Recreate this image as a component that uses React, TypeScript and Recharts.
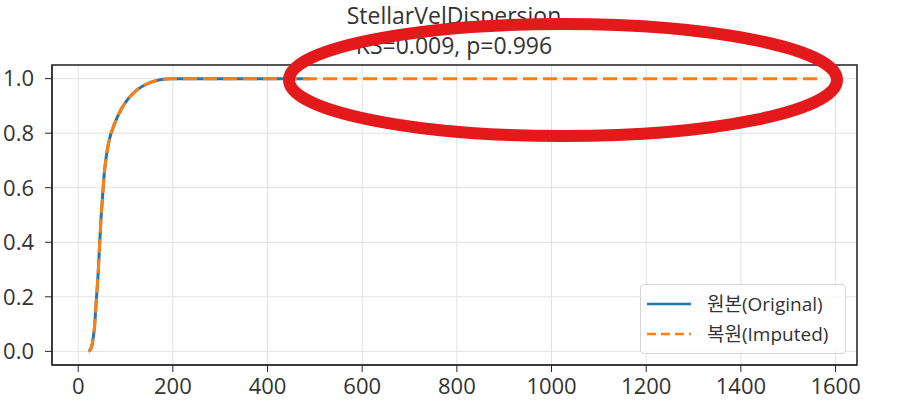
import { CartesianGrid, Legend, Line, LineChart, ReferenceArea, XAxis, YAxis } from "recharts";

const title = "StellarVelDispersion";
const subtitle = "KS=0.009, p=0.996";

const seriesNames = ["원본(Original)", "복원(Imputed)"];

const originalX = [22, 27, 31, 35, 38, 42, 45, 48, 52, 55, 59, 65, 77, 90, 105, 125, 148, 170, 197, 300, 489];
const originalCdf = [0, 0.01, 0.04, 0.1, 0.18, 0.28, 0.38, 0.48, 0.58, 0.65, 0.71, 0.77, 0.835, 0.885, 0.925, 0.96, 0.983, 0.995, 1.0, 1.0, 1.0];

const imputedX = [22, 27, 31, 35, 38, 42, 45, 48, 52, 55, 59, 65, 77, 90, 105, 125, 148, 170, 197, 300, 489, 1568];
const imputedCdf = [0, 0.01, 0.04, 0.1, 0.18, 0.28, 0.38, 0.48, 0.58, 0.65, 0.71, 0.77, 0.835, 0.885, 0.925, 0.96, 0.983, 0.995, 1.0, 1.0, 1.0, 1.0];

const xTicks = [0, 200, 400, 600, 800, 1000, 1200, 1400, 1600];
const yTicks = [0, 0.2, 0.4, 0.6, 0.8, 1.0];

const FONT = "'Open Sans', 'Noto Sans CJK KR', sans-serif";
const BLUE = "#1f77b4";
const ORANGE = "#ff7f0e";

const originalData = originalX.map((x, i) => ({ x, y: originalCdf[i] }));
const imputedData = imputedX.map((x, i) => ({ x, y: imputedCdf[i] }));

// matplotlib-style 5% margins around the data range
const xMin = Math.min(...imputedX);
const xMax = Math.max(...imputedX);
const xPad = (xMax - xMin) * 0.05;
const xDomain = [xMin - xPad, xMax + xPad];
const yDomain = [-0.05, 1.05];

function LegendBox() {
  return (
    <div
      style={{
        border: "1px solid #d6d6d6",
        borderRadius: 4,
        background: "rgba(255,255,255,0.85)",
        padding: "4px 8px 4px 6px",
        fontFamily: FONT,
        fontSize: 19,
        color: "#333",
        lineHeight: "30px",
        textAlign: "left",
      }}
    >
      {seriesNames.map((name, i) => (
        <div key={name} style={{ display: "flex", alignItems: "center" }}>
          <svg width={46} height={10} style={{ marginRight: 14 }}>
            <line
              x1={0}
              y1={5}
              x2={44}
              y2={5}
              stroke={i === 0 ? BLUE : ORANGE}
              strokeWidth={2.5}
              strokeDasharray={i === 0 ? undefined : "9 5"}
            />
          </svg>
          <span>{name}</span>
        </div>
      ))}
    </div>
  );
}

export default function App() {
  return (
    <div style={{ position: "absolute", left: 0, top: 0, width: 922, height: 410, background: "#fff" }}>
      <div
        style={{
          position: "absolute",
          left: 254,
          width: 400,
          top: 0,
          textAlign: "center",
          fontFamily: FONT,
          fontSize: 23,
          color: "#333",
          lineHeight: "30px",
        }}
      >
        <div>{title}</div>
        <div>{subtitle}</div>
      </div>
      <LineChart width={922} height={410} margin={{ top: 65, right: 65, bottom: 0, left: 0 }}>
        <CartesianGrid stroke="#e2e2e2" strokeWidth={1} />
        <XAxis
          dataKey="x"
          type="number"
          domain={xDomain}
          ticks={xTicks}
          allowDataOverflow
          height={45}
          tickSize={7}
          tickMargin={6}
          stroke="#222"
          tick={{ fill: "#333", fontSize: 22, fontFamily: FONT }}
        />
        <YAxis
          type="number"
          domain={yDomain}
          ticks={yTicks}
          allowDataOverflow
          width={52}
          tickSize={7}
          tickMargin={11}
          stroke="#222"
          tickFormatter={(v: number) => v.toFixed(1)}
          tick={{ fill: "#333", fontSize: 22, fontFamily: FONT }}
        />
        <ReferenceArea
          x1={xDomain[0]}
          x2={xDomain[1]}
          y1={yDomain[0]}
          y2={yDomain[1]}
          fill="none"
          stroke="#222"
          strokeWidth={1.5}
          ifOverflow="visible"
        />
        <Line
          data={originalData}
          dataKey="y"
          type="monotone"
          stroke={BLUE}
          strokeWidth={3}
          dot={false}
          isAnimationActive={false}
          name={seriesNames[0]}
        />
        <Line
          data={imputedData}
          dataKey="y"
          type="monotone"
          stroke={ORANGE}
          strokeWidth={3}
          strokeDasharray="14 6"
          dot={false}
          isAnimationActive={false}
          name={seriesNames[1]}
        />
        <Legend
          verticalAlign="middle"
          align="center"
          content={() => <LegendBox />}
          wrapperStyle={{ left: 640, top: 284, width: 206 }}
        />
      </LineChart>
      <svg width={922} height={410} style={{ position: "absolute", left: 0, top: 0, pointerEvents: "none" }}>
        <ellipse cx={563} cy={80} rx={274} ry={56} fill="none" stroke="#e3191c" strokeWidth={12} />
      </svg>
    </div>
  );
}
